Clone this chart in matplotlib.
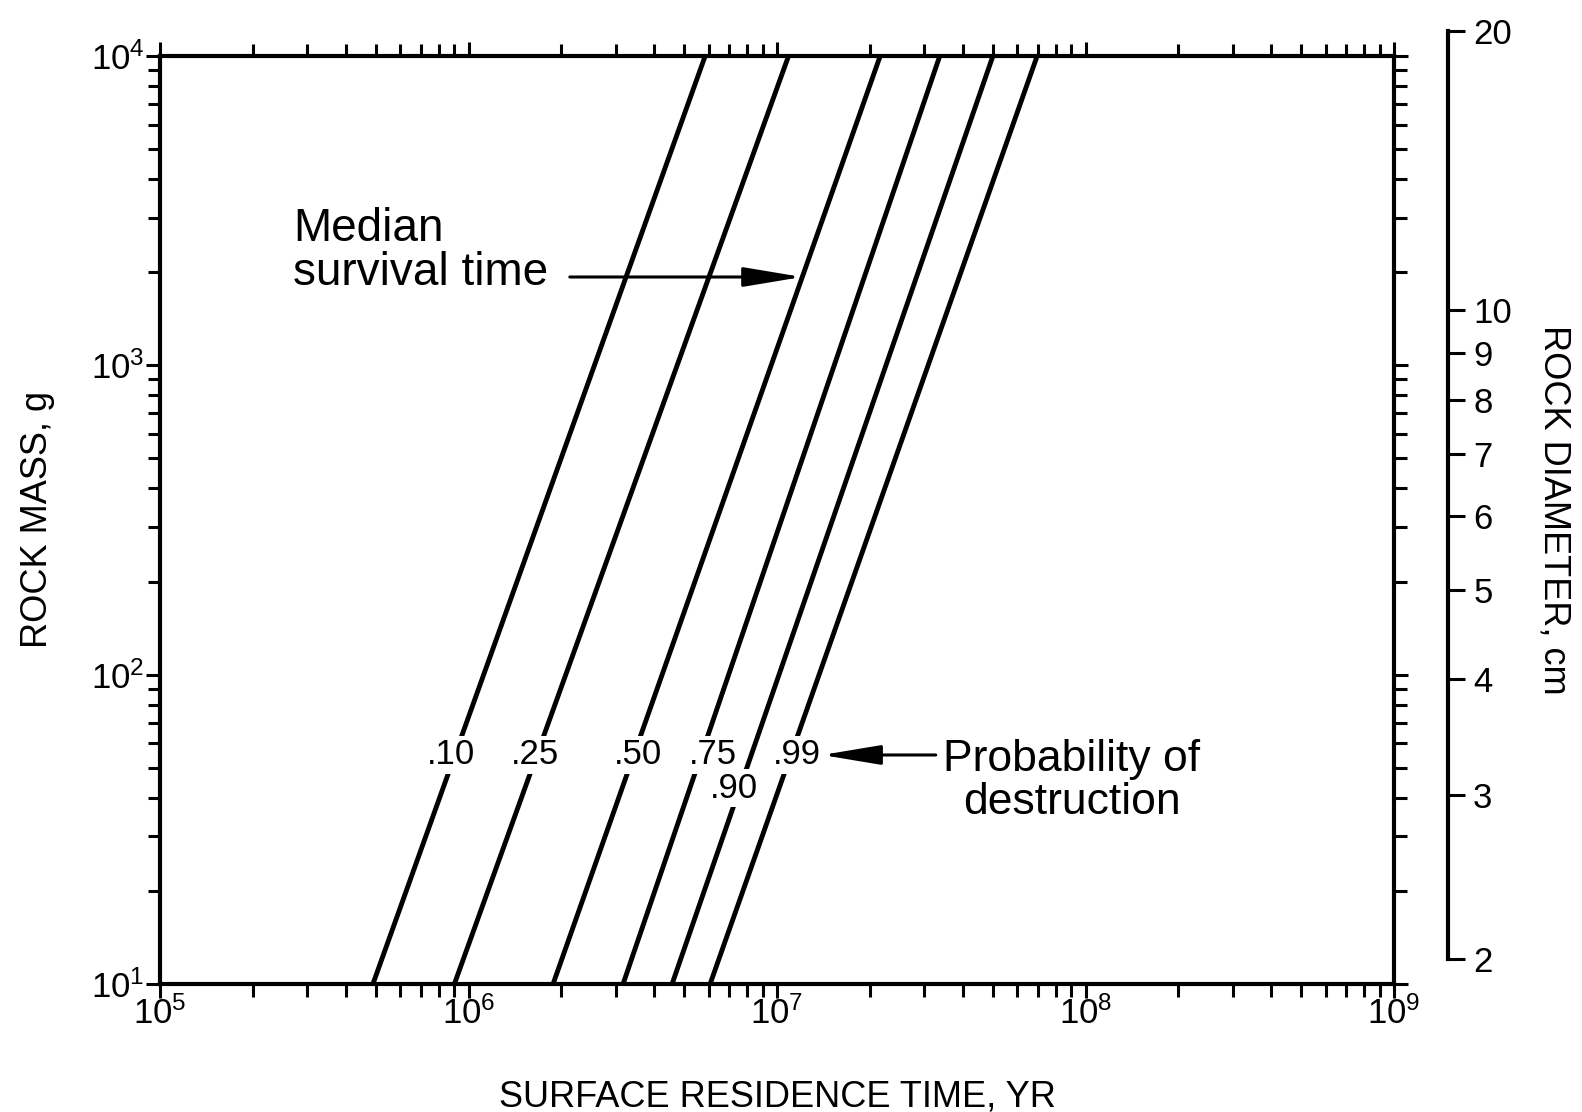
import numpy as np
import matplotlib.pyplot as plt
from matplotlib.ticker import LogLocator, FixedLocator, NullLocator, NullFormatter, FuncFormatter

plt.rcParams['font.family'] = ['Liberation Sans', 'DejaVu Sans']
plt.rcParams['mathtext.fontset'] = 'custom'
plt.rcParams['mathtext.rm'] = 'Liberation Sans'
plt.rcParams['mathtext.it'] = 'Liberation Sans:italic'

# probability-of-destruction curves, straight lines on log-log axes
probs = ['.10', '.25', '.50', '.75', '.90', '.99']
mass_ends = [10, 1e4]
time_at_10g = [4.9e5, 9.0e5, 1.88e6, 3.17e6, 4.57e6, 6.07e6]
time_at_1e4g = [5.85e6, 1.09e7, 2.16e7, 3.37e7, 5.01e7, 6.97e7]

# where the probability labels sit
label_time = [8.8e5, 1.64e6, 3.54e6, 6.2e6, 7.26e6, 1.16e7]
label_mass = [55, 55, 55, 55, 43, 55]

# right-hand diameter scale
diam_ticks = [2, 3, 4, 5, 6, 7, 8, 9, 10, 20]
density = 2.88  # g/cm^3, ties diameter to mass


def mass_of_diam(d):
    return density * np.pi / 6 * np.asarray(d, dtype=float) ** 3


W, H = 1582, 1112
fig = plt.figure(figsize=(W / 100, H / 100), dpi=100)
ax = fig.add_axes([160 / W, (H - 984) / H, 1234 / W, 928 / H])

ax.set_xscale('log')
ax.set_yscale('log')
ax.set_xlim(1e5, 1e9)
ax.set_ylim(10, 1e4)

for s in ax.spines.values():
    s.set_linewidth(3)

ax.xaxis.set_major_locator(LogLocator(base=10, numticks=10))
ax.xaxis.set_minor_locator(LogLocator(base=10, subs=np.arange(2, 10), numticks=50))
ax.yaxis.set_major_locator(LogLocator(base=10, numticks=10))
ax.yaxis.set_minor_locator(LogLocator(base=10, subs=np.arange(2, 10), numticks=50))
ax.xaxis.set_minor_formatter(NullFormatter())
ax.yaxis.set_minor_formatter(NullFormatter())

ax.tick_params(which='both', direction='out', top=True, right=True, width=2.2)
ax.tick_params(which='major', length=10, labelsize=25)
ax.tick_params(which='minor', length=9)
ax.tick_params(axis='x', pad=-1)
ax.tick_params(axis='y', pad=1)

for i in range(len(probs)):
    ax.plot([time_at_10g[i], time_at_1e4g[i]], mass_ends, color='black',
            lw=3.5, solid_capstyle='butt')
    ax.text(label_time[i], label_mass[i], probs[i], ha='center', va='center',
            fontsize=25, zorder=5,
            bbox=dict(fc='white', ec='none', pad=1.5))

ax.text(2.70e5, 2344, 'Median\nsurvival time', ha='left', va='center',
        fontsize=33, linespacing=1.0)
ax.annotate('', xy=(1.205e7, 1930), xytext=(2.13e6, 1930),
            arrowprops=dict(arrowstyle='-|>,head_length=1.2,head_width=0.2',
                            mutation_scale=30, lw=2.2, color='black',
                            shrinkA=0, shrinkB=0))

ax.text(9.04e7, 45.3, 'Probability of\ndestruction', ha='center', va='center',
        fontsize=32, linespacing=1.05)
ax.annotate('', xy=(1.40e7, 55), xytext=(3.27e7, 55),
            arrowprops=dict(arrowstyle='-|>,head_length=1.2,head_width=0.2',
                            mutation_scale=30, lw=2.2, color='black',
                            shrinkA=0, shrinkB=0))

ax.set_xlabel('SURFACE RESIDENCE TIME, YR', fontsize=26)
ax.xaxis.set_label_coords(0.5, -0.103)
ax.set_ylabel('ROCK MASS, g', fontsize=26)
ax.yaxis.set_label_coords(-0.085, 0.5)

# separate diameter scale to the right of the frame
pos = ax.get_position()
m_lo, m_hi = mass_of_diam([diam_ticks[0], diam_ticks[-1]])
f0 = (np.log10(m_lo) - 1) / 3
f1 = (np.log10(m_hi) - 1) / 3
ax2 = fig.add_axes([1448 / W, pos.y0 + f0 * pos.height, 0.0001, (f1 - f0) * pos.height])
ax2.set_yscale('log')
ax2.set_ylim(diam_ticks[0], diam_ticks[-1])
ax2.patch.set_visible(False)
for k in ['left', 'top', 'bottom']:
    ax2.spines[k].set_visible(False)
ax2.spines['right'].set_linewidth(3)
ax2.xaxis.set_visible(False)
ax2.yaxis.tick_right()
ax2.yaxis.set_major_locator(FixedLocator(diam_ticks))
ax2.yaxis.set_major_formatter(FuncFormatter(lambda v, p: '%d' % round(v)))
ax2.yaxis.set_minor_locator(NullLocator())
ax2.tick_params(axis='y', direction='out', length=12, width=2.2, labelsize=25, pad=6)

fig.text(1554 / W, 1 - 510 / H, 'ROCK DIAMETER, cm', rotation=-90,
         ha='center', va='center', fontsize=26)

fig.savefig('out.png', dpi=100)
